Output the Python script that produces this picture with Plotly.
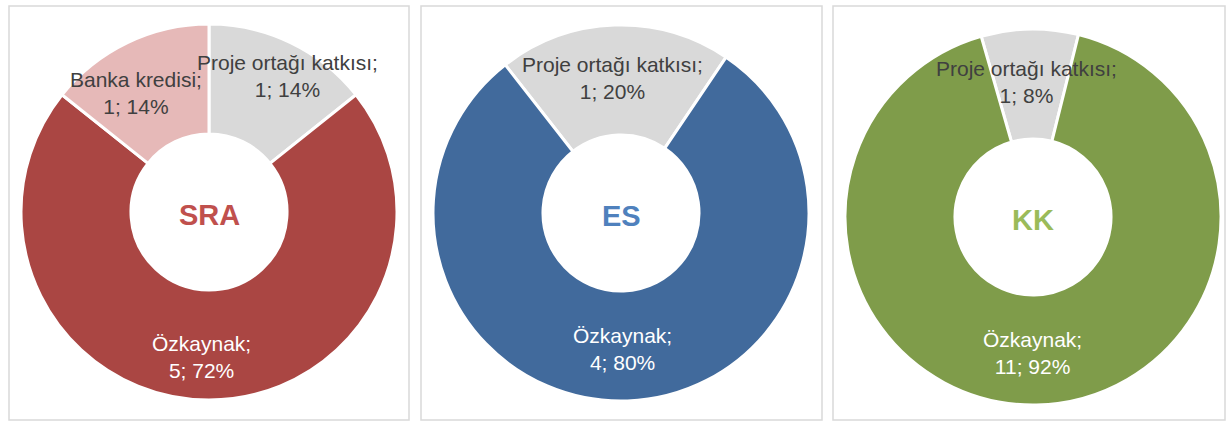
import math
import plotly.graph_objects as go

W, H = 1228, 422

# ---- data ----
charts = ["SRA", "ES", "KK"]
sra_labels = ["Proje ortağı katkısı", "Özkaynak", "Banka kredisi"]
sra_values = [1, 5, 1]
sra_pcts = ["14%", "72%", "14%"]
es_labels = ["Proje ortağı katkısı", "Özkaynak"]
es_values = [1, 4]
es_pcts = ["20%", "80%"]
kk_labels = ["Proje ortağı katkısı", "Özkaynak"]
kk_values = [1, 11]
kk_pcts = ["8%", "92%"]

# ---- styles ----
sra_colors = ["#D9D9D9", "#AA4643", "#E6B9B8"]
es_colors = ["#D9D9D9", "#416A9C"]
kk_colors = ["#D9D9D9", "#7F9C4A"]
sra_text_colors = ["#404040", "#FFFFFF", "#404040"]
es_text_colors = ["#404040", "#FFFFFF"]
kk_text_colors = ["#404040", "#FFFFFF"]
center_colors = ["#C0504D", "#4F81BD", "#9BBB59"]
rotations = [0, -38, -16]

# label nudges (pixels) relative to mid-angle placement
sra_nudges = [(19, -13), (-8, 9), (-14, 4)]
es_nudges = [(-4, 1), (-3, 0)]
kk_nudges = [(-4, 1), (-3, 0)]

# ---- layout (pixels) ----
centers = [(209, 212), (621, 213), (1033, 217)]
R = 188
HOLE = 0.415
panels = [(9, 6, 409, 420), (421, 6, 822, 420), (833, 6, 1225, 420)]
LABEL_R = 136
FONT = "Liberation Sans, Arial, sans-serif"

series = [
    (sra_labels, sra_values, sra_pcts, sra_colors, sra_text_colors, sra_nudges),
    (es_labels, es_values, es_pcts, es_colors, es_text_colors, es_nudges),
    (kk_labels, kk_values, kk_pcts, kk_colors, kk_text_colors, kk_nudges),
]

fig = go.Figure()
annotations = []
shapes = []

for i, (labels, values, pcts, colors, tcolors, nudges) in enumerate(series):
    cx, cy = centers[i]
    fig.add_trace(go.Pie(
        labels=labels, values=values, sort=False, direction="clockwise",
        rotation=rotations[i], hole=HOLE,
        marker=dict(colors=colors, line=dict(color="white", width=3)),
        textinfo="none", hoverinfo="label+value+percent", showlegend=False,
        domain=dict(x=[(cx - R) / W, (cx + R) / W],
                    y=[1 - (cy + R) / H, 1 - (cy - R) / H]),
    ))
    total = sum(values)
    cum = 0
    for lab, v, p, tc, (nx, ny) in zip(labels, values, pcts, tcolors, nudges):
        mid = rotations[i] + (cum + v / 2) / total * 360
        cum += v
        a = math.radians(mid)
        px = cx + LABEL_R * math.sin(a) + nx
        py = cy - LABEL_R * math.cos(a) + ny
        annotations.append(dict(
            x=px / W, y=1 - py / H, xref="paper", yref="paper",
            text=f"{lab};<br>{v}; {p}", showarrow=False,
            font=dict(family=FONT, size=21, color=tc),
            align="center", xanchor="center", yanchor="middle",
        ))
    annotations.append(dict(
        x=cx / W, y=1 - (cy + 3) / H, xref="paper", yref="paper",
        text=f"<b>{charts[i]}</b>", showarrow=False,
        font=dict(family=FONT, size=29, color=center_colors[i]),
        xanchor="center", yanchor="middle",
    ))
    x0, y0, x1, y1 = panels[i]
    shapes.append(dict(type="rect", xref="paper", yref="paper",
                       x0=x0 / W, x1=x1 / W, y0=1 - y1 / H, y1=1 - y0 / H,
                       line=dict(color="#D9D9D9", width=1.5), layer="below"))

fig.update_layout(
    width=W, height=H, margin=dict(l=0, r=0, t=0, b=0),
    paper_bgcolor="white", plot_bgcolor="white",
    annotations=annotations, shapes=shapes,
)

fig.write_html("out.html", config={"displayModeBar": False},
               post_script="document.body.style.margin='0';document.body.style.overflow='hidden';")
